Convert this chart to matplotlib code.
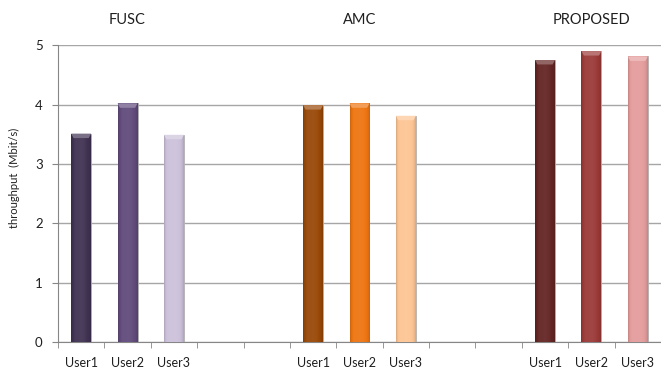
import numpy as np
import matplotlib.pyplot as plt
from matplotlib.colors import to_rgb
from matplotlib.patches import Polygon

# throughput per user for each scheme
schemes = ['FUSC', 'AMC', 'PROPOSED']
users = ['User1', 'User2', 'User3']
fusc = [3.51, 4.02, 3.49]
amc = [3.99, 4.02, 3.81]
proposed = [4.75, 4.90, 4.81]

colors = [['#403152', '#604A7B', '#CCC1DA'],
          ['#984807', '#EE7511', '#FDC594'],
          ['#632523', '#9B3A38', '#E49C9C']]

gap = 2  # empty slots between groups
values = [fusc, amc, proposed]

# lay out categories: 3 users, then 2 empty slots, ...
labels = []
positions = []
for g, vals in enumerate(values):
    for i in range(len(vals)):
        positions.append(len(labels))
        labels.append(users[i])
    if g < len(values) - 1:
        labels.extend([''] * gap)

plt.rcParams['font.family'] = ['Lato', 'DejaVu Sans']

fig = plt.figure(figsize=(6.61, 3.72), dpi=100)
ax = fig.add_axes([0.0877, 0.0806, 0.9123, 0.798])


def shade(c, f):
    c = np.array(to_rgb(c))
    if f < 1:
        return c * f
    return c + (1 - c) * (f - 1)


def cylinder(ax, bar, color):
    x, w, h = bar.get_x(), bar.get_width(), bar.get_height()
    # horizontal shading across the bar
    t = np.linspace(0, 1, 64)
    prof = 0.82 + 0.24 * np.sin(np.pi * t) ** 0.5
    prof = np.where(t < 0.35, prof + 0.04 * np.sin(np.pi * t / 0.35), prof)
    img = np.array([[shade(color, p) for p in prof]]).clip(0, 1)
    im = ax.imshow(img, extent=[x, x + w, 0, h], aspect='auto',
                   interpolation='bicubic', zorder=3)
    im.set_clip_path(bar)
    # bevelled top cap
    cap = 0.075
    inset = w * 0.12
    top = Polygon([[x, h], [x + w, h], [x + w - inset, h - cap],
                   [x + inset, h - cap]], closed=True,
                  facecolor=shade(color, 1.3), edgecolor='none', zorder=4)
    ax.add_patch(top)


for g, vals in enumerate(values):
    pos = positions[g * 3:(g + 1) * 3]
    bars = ax.bar(pos, vals, width=0.43, color=colors[g],
                  edgecolor='#B0B0B0', linewidth=0.6, zorder=2)
    for b, c in zip(bars, colors[g]):
        cylinder(ax, b, c)
    ax.text(pos[1], 1.085, schemes[g], transform=ax.get_xaxis_transform(),
            ha='center', va='center', fontsize=10.5, color='#1F1F1F')

ax.set_xlim(-0.5, len(labels) - 0.5)
ax.set_ylim(0, 5)
ax.set_yticks(range(6))
ax.set_xticks(range(len(labels)))
ax.set_xticklabels(labels, fontsize=9, color='#1F1F1F')
ax.set_xticks(np.arange(-0.5, len(labels)), minor=True)
ax.tick_params(axis='x', which='major', length=0, pad=11)
ax.tick_params(axis='x', which='minor', length=4, color='#868686', direction='out')
ax.tick_params(axis='y', length=4, color='#868686', labelsize=9.5, labelcolor='#1F1F1F', pad=7)

ax.grid(axis='y', color='#A6A6A6', linewidth=1)
ax.set_axisbelow(True)
for s in ['top', 'right']:
    ax.spines[s].set_visible(False)
for s in ['left', 'bottom']:
    ax.spines[s].set_color('#868686')

ax.set_ylabel('throughput  (Mbit/s)', fontsize=8, color='#1F1F1F')
ax.yaxis.set_label_coords(-0.063, 0.552)

fig.savefig('out.png', dpi=100)
